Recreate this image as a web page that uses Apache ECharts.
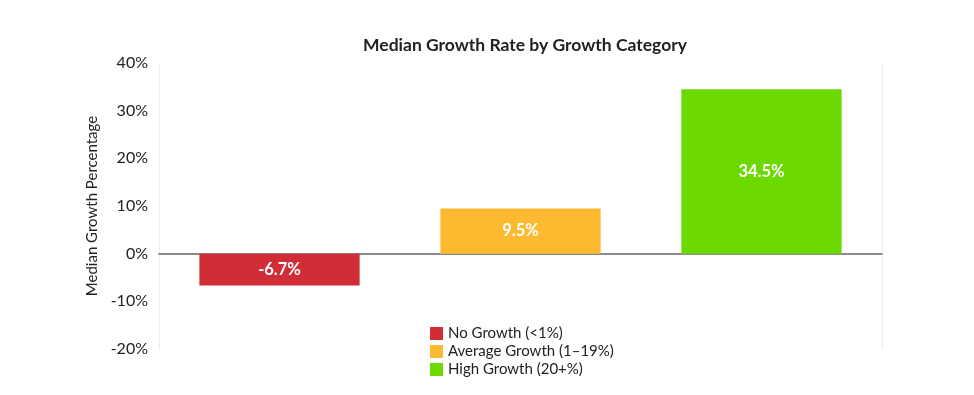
<!DOCTYPE html>
<html><head><meta charset="utf-8">
<script src="https://cdn.jsdelivr.net/npm/echarts@6/dist/echarts.min.js"></script>
<style>html,body{margin:0;padding:0;background:#fff}#c{width:974px;height:395px}</style>
</head><body><div id="c"></div>
<script>
const categories = ['No Growth (<1%)', 'Average Growth (1–19%)', 'High Growth (20+%)'];
const values = [-6.7, 9.5, 34.5];
const colors = ['#D12D37', '#FDB930', '#6CD900'];
const yTicks = { min: -20, max: 40, interval: 10 };

const chart = echarts.init(document.getElementById('c'));
const font = 'Lato, "Open Sans", sans-serif';
const series = categories.map((name, i) => ({
  name,
  type: 'bar',
  stack: 'all',
  barWidth: '66.5%',
  itemStyle: { color: colors[i] },
  label: {
    show: true, position: 'inside', color: '#fff', fontWeight: 'bold',
    fontSize: 16.5, fontFamily: font,
    formatter: p => p.value == null ? '' : p.value.toFixed(1) + '%'
  },
  data: categories.map((c, j) => j === i ? values[i] : null)
}));
chart.setOption({
  animation: false,
  title: {
    text: 'Median Growth Rate by Growth Category', left: 520, top: 31, textAlign: 'center',
    textStyle: { fontFamily: font, fontSize: 17.5, fontWeight: 'bold', color: '#222' }
  },
  legend: {
    orient: 'vertical', left: 425, top: 321, itemWidth: 13, itemHeight: 13, itemGap: 3,
    icon: 'rect',
    textStyle: { fontFamily: font, fontSize: 15, color: '#222' },
    data: categories
  },
  grid: { left: 159, right: 92, top: 63, bottom: 46 },
  xAxis: {
    type: 'category', data: categories,
    axisLine: { onZero: true, lineStyle: { color: '#666', width: 1.5 } },
    axisTick: { show: false }, axisLabel: { show: false }
  },
  yAxis: [{
    type: 'value', min: yTicks.min, max: yTicks.max, interval: yTicks.interval,
    name: 'Median Growth Percentage', nameLocation: 'middle', nameGap: 58,
    nameTextStyle: { fontFamily: font, fontSize: 15, color: '#222' },
    axisLine: { show: true, lineStyle: { color: '#e6e6e6', type: 'dotted' } },
    axisTick: { show: false },
    splitLine: { show: false },
    axisLabel: { formatter: '{value}%', fontFamily: font, fontSize: 16, color: '#222', margin: 11 }
  }, {
    type: 'value', position: 'right', min: yTicks.min, max: yTicks.max, interval: yTicks.interval,
    axisLine: { show: true, lineStyle: { color: '#e6e6e6', type: 'dotted' } },
    axisTick: { show: false }, axisLabel: { show: false }, splitLine: { show: false }
  }],
  series
});
</script></body></html>
